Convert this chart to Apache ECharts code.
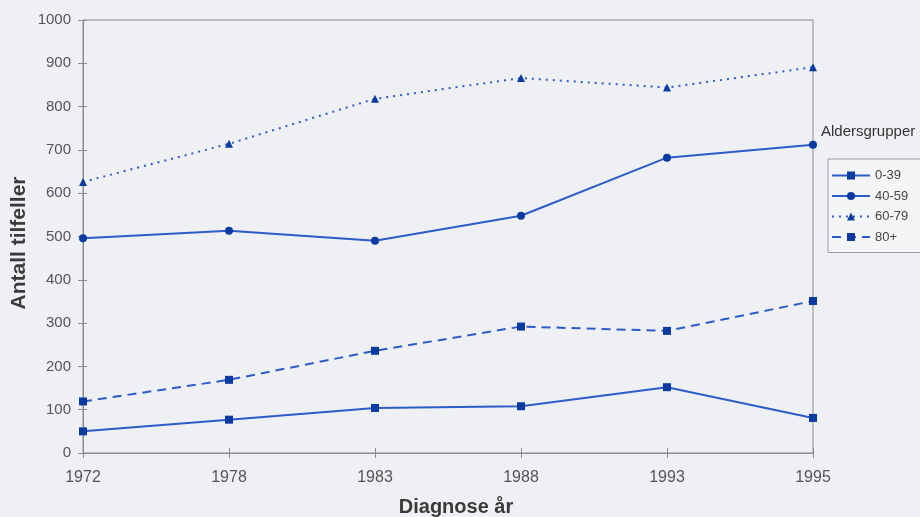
<!DOCTYPE html>
<html>
<head>
<meta charset="utf-8">
<script src="https://cdn.jsdelivr.net/npm/echarts@6/dist/echarts.min.js"></script>
<style>
  html, body { margin: 0; padding: 0; background: #eef0f4; }
  #chart { width: 920px; height: 517px; }
</style>
</head>
<body>
<div id="chart"></div>
<script>
// Diagnosis years (evenly spaced categories)
const years = ['1972', '1978', '1983', '1988', '1993', '1995'];

// Number of cases per age group
const age0_39  = [50, 77, 104, 108, 152, 81];
const age40_59 = [496, 513, 490, 548, 682, 712];
const age60_79 = [626, 714, 818, 866, 844, 891];
const age80    = [119, 169, 236, 292, 282, 351];

const groupNames = ['0-39', '40-59', '60-79', '80+'];

const lineColor = '#2d5cc8';
const markColor = '#0b3ba0';
const axisColor = '#8a8c90';
const labelColor = '#555';
const font = 'Liberation Sans, Arial, sans-serif';

function series(name, data, symbol, type, size) {
  return {
    name: name,
    type: 'line',
    data: data,
    symbol: symbol,
    symbolSize: size,
    showSymbol: true,
    lineStyle: { color: lineColor, width: 2, type: type },
    itemStyle: { color: markColor },
    emphasis: { disabled: true },
    animation: false
  };
}

const chart = echarts.init(document.getElementById('chart'));
chart.setOption({
  backgroundColor: '#eef0f4',
  animation: false,
  grid: {
    left: 83, right: 107, top: 20, bottom: 64,
    show: true, borderColor: axisColor, borderWidth: 1,
    backgroundColor: 'transparent'
  },
  xAxis: [{
    type: 'category',
    data: years,
    boundaryGap: false,
    axisLine: { lineStyle: { color: axisColor, width: 1 } },
    axisTick: { show: true, length: 5, lineStyle: { color: axisColor } },
    axisLabel: { color: labelColor, fontSize: 16, fontFamily: font, margin: 17 },
    splitLine: { show: false }
  }, {
    // inner half of the crossing tick marks
    type: 'category',
    data: years,
    boundaryGap: false,
    position: 'bottom',
    axisLine: { show: false },
    axisTick: { show: true, inside: true, length: 5, lineStyle: { color: axisColor } },
    axisLabel: { show: false },
    splitLine: { show: false }
  }],
  yAxis: [{
    type: 'value',
    min: 0, max: 1000, interval: 100,
    axisLine: { show: true, lineStyle: { color: axisColor, width: 1 } },
    axisTick: { show: true, length: 5, lineStyle: { color: axisColor } },
    axisLabel: {
      color: labelColor, fontSize: 15, fontFamily: font, margin: 12,
      formatter: function (v) { return String(v); }
    },
    splitLine: { show: false }
  }, {
    type: 'value',
    position: 'left',
    min: 0, max: 1000, interval: 100,
    axisLine: { show: false },
    axisTick: { show: true, inside: true, length: 4, lineStyle: { color: axisColor } },
    axisLabel: { show: false },
    splitLine: { show: false }
  }],
  legend: {
    data: groupNames,
    orient: 'vertical',
    left: 828, top: 159,
    padding: [10, 30, 9, 3],
    itemWidth: 38, itemHeight: 10, itemGap: 7.5,
    backgroundColor: '#f4f5f7',
    borderColor: '#9a9ca0', borderWidth: 1,
    textStyle: { color: '#444', fontSize: 13, fontFamily: font },
    selectedMode: false
  },
  graphic: [{
    type: 'text',
    left: 821, top: 124,
    style: { text: 'Aldersgrupper', fill: '#333', font: '15px ' + font }
  }, {
    type: 'text',
    x: 19, y: 243,
    rotation: Math.PI / 2,
    style: {
      text: 'Antall tilfeller', fill: '#3a3a3a',
      font: 'bold 21px ' + font,
      textAlign: 'center', textVerticalAlign: 'middle'
    }
  }, {
    type: 'text',
    x: 456, y: 507,
    style: {
      text: 'Diagnose år', fill: '#3a3a3a',
      font: 'bold 20px ' + font,
      textAlign: 'center', textVerticalAlign: 'middle'
    }
  }],
  series: [
    series('0-39', age0_39, 'rect', 'solid', 8),
    series('40-59', age40_59, 'circle', 'solid', 8),
    series('60-79', age60_79, 'triangle', [2, 5], 8),
    series('80+', age80, 'rect', [9, 6], 8)
  ]
});
</script>
</body>
</html>
